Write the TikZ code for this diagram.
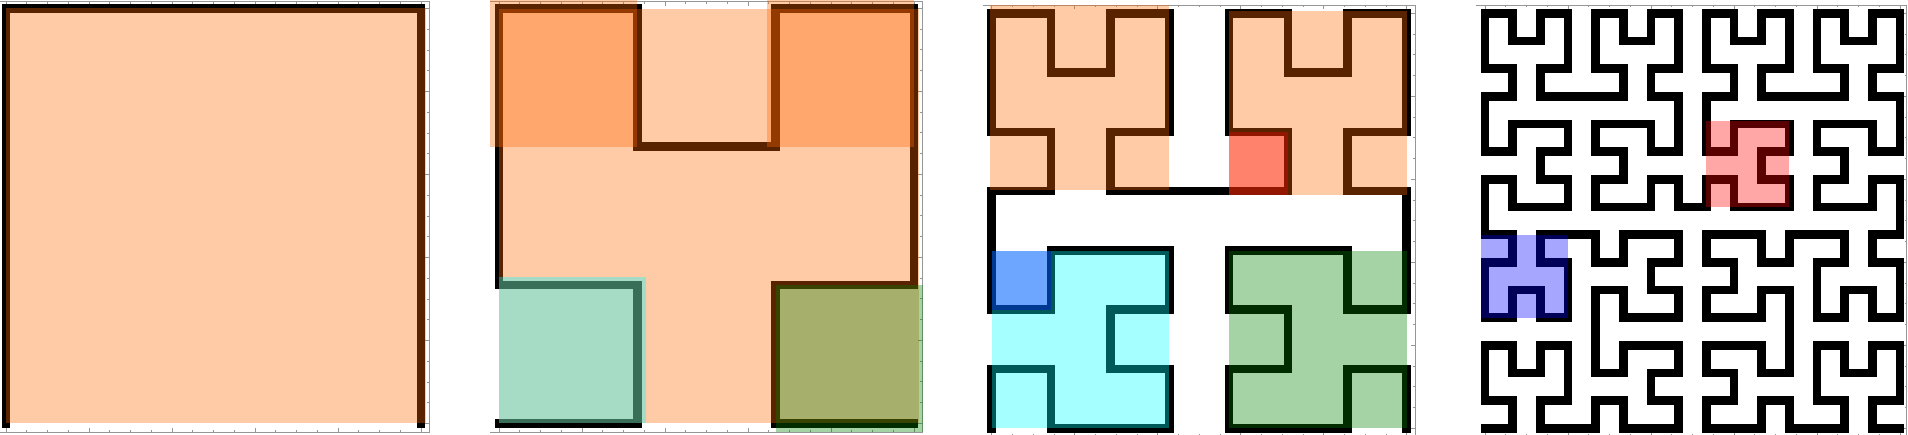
\documentclass[tikz,border=0pt]{standalone}
\usetikzlibrary{lindenmayersystems}

\definecolor{fillOrange}{RGB}{255,102,0}
\definecolor{fillCyan}{RGB}{0,255,255}
\definecolor{fillGreen}{RGB}{0,128,0}
\definecolor{fillRed}{RGB}{255,0,0}
\definecolor{fillBlue}{RGB}{0,0,255}
\definecolor{axisGray}{RGB}{150,150,150}

\tikzset{
  hilbert/.style={line width=8.5pt, line join=miter, line cap=rect},
  patch/.style={fill=#1, fill opacity=0.35},
  spine/.style={draw=axisGray, line width=0.8pt},
}

% frame with ticks: left, right, top, bottom, x of data 0, y of data 0
\newcommand{\panelFrame}[6]{
  \draw[spine] (#1,#3) -- (#2,#3) -- (#2,#4) -- (#1,#4);
  \foreach \k in {0,...,20} {
    \pgfmathsetmacro{\tickLen}{ifthenelse(mod(\k,4)==0,4,2)}
    \draw[spine] (#5+20.75*\k,#3) -- ++(0,\tickLen);
    \draw[spine] (#5+20.75*\k,#4) -- ++(0,-\tickLen);
    \draw[spine] (#2,#6-20.75*\k) -- ++(-\tickLen,0);
  }
}

\begin{document}
\begin{tikzpicture}[x=1pt,y=-1pt]
  \useasboundingbox (0,0) rectangle (1908,434);

  % order 1
  \panelFrame{0}{429}{1.5}{432}{6}{423.5}
  \draw[hilbert, shift={(6,423.5)},
    l-system={rule set={A -> +BF-AFA-FB+, B -> -AF+BFB+FA-}, axiom=A, order=1, step=415pt, angle=90}]
    (0,0) lindenmayer system;
  \fill[patch=fillOrange] (6,8.3) rectangle (426,423);

  % order 2
  \panelFrame{490}{922}{1.5}{432}{499}{423.3}
  \draw[hilbert, shift={(499,423.3)},
    l-system={rule set={A -> +BF-AFA-FB+, B -> -AF+BFB+FA-}, axiom=A, order=2, step=138.33pt, angle=90}]
    (0,0) lindenmayer system;
  \fill[patch=fillOrange] (499,9) rectangle (919,423.3);
  \fill[patch=fillOrange] (490,0) rectangle (637.3,147);
  \fill[patch=fillOrange] (767.3,0) rectangle (914,147);
  \fill[patch=fillCyan] (499,277.3) rectangle (645.7,423.3);
  \fill[patch=fillGreen] (775.7,285) rectangle (922.7,432);

  % order 3
  \panelFrame{983}{1415}{5.3}{436}{991.7}{428.3}
  \draw[hilbert, shift={(991.7,428.3)},
    l-system={rule set={A -> +BF-AFA-FB+, B -> -AF+BFB+FA-}, axiom=A, order=3, step=59.29pt, angle=90}]
    (0,0) lindenmayer system;
  \fill[patch=fillOrange] (990,5) rectangle (1169.3,190);
  \fill[patch=fillOrange] (1229.3,10.7) rectangle (1406.7,195);
  \fill[patch=fillRed] (1229.3,132.3) rectangle (1288.3,195);
  \fill[patch=fillCyan] (991.7,251) rectangle (1169.3,428.3);
  \fill[patch=fillBlue] (991.7,251) rectangle (1051,310);
  \fill[patch=fillGreen] (1229.3,251) rectangle (1406.7,428.3);

  % order 4
  \panelFrame{1476}{1906.5}{5.3}{436}{1485}{428.3}
  \draw[hilbert, shift={(1485,428.3)},
    l-system={rule set={A -> +BF-AFA-FB+, B -> -AF+BFB+FA-}, axiom=A, order=4, step=27.67pt, angle=90}]
    (0,0) lindenmayer system;
  \fill[patch=fillRed] (1706,120.7) rectangle (1789.3,207.3);
  \fill[patch=fillBlue] (1480.7,235) rectangle (1567.7,317.7);
\end{tikzpicture}
\end{document}
